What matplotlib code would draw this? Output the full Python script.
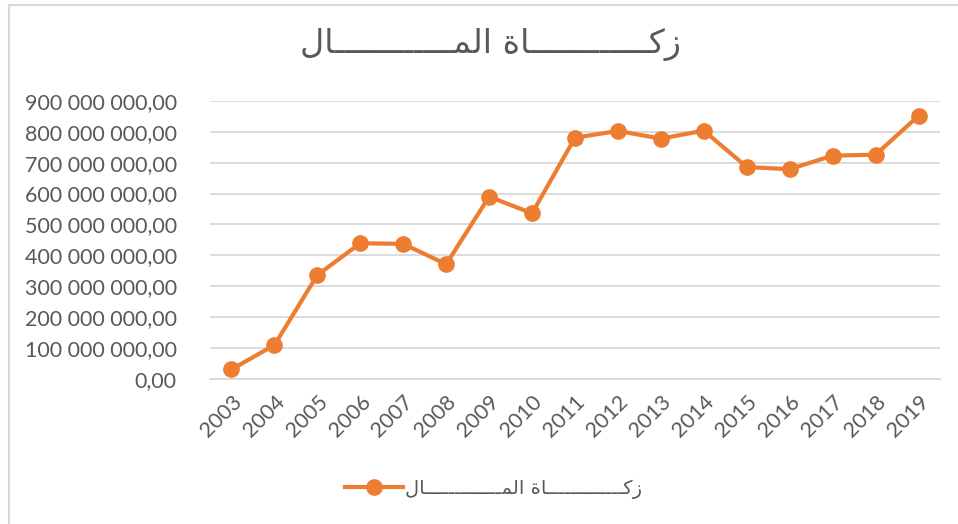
import matplotlib
matplotlib.use('Agg')
import matplotlib.pyplot as plt
from matplotlib.ticker import FuncFormatter
from matplotlib.lines import Line2D

plt.rcParams['font.family'] = ['Lato', 'DejaVu Sans']

# البيانات
years = ['2003', '2004', '2005', '2006', '2007', '2008', '2009', '2010', '2011',
         '2012', '2013', '2014', '2015', '2016', '2017', '2018', '2019']
zakat = [30e6, 109e6, 336e6, 439e6, 437e6, 371e6, 590e6, 536e6, 781e6,
         803e6, 778e6, 804e6, 686e6, 679e6, 723e6, 726e6, 852e6]

# النص العربي بأشكال العرض (matplotlib لا يقوم بتشكيل الحروف)
def arabic_label(n):
    tat = '\u0640' * n
    word1 = '\uFEAF' + '\uFEDB' + tat + '\uFE8E' + '\uFE93'          # زكاة
    word2 = '\uFE8D' + '\uFEDF' + '\uFEE4' + tat + '\uFE8E' + '\uFEDD'  # المال
    return (word1 + ' ' + word2)[::-1]

orange = '#ED7D31'
grey = '#595959'

fig = plt.figure(figsize=(9.58, 5.24), dpi=100)
ax = fig.add_axes([210 / 958, 1 - 378.7 / 524, 730 / 958, 277.7 / 524])

x = range(len(years))
ax.plot(x, zakat, color=orange, linewidth=3, marker='o', markersize=11, zorder=3)

ax.set_xlim(-0.5, len(years) - 0.5)
ax.set_ylim(0, 900e6)
ax.set_yticks([i * 100e6 for i in range(10)])
ax.yaxis.set_major_formatter(FuncFormatter(
    lambda v, p: '{:,.2f}'.format(v).replace(',', ' ').replace('.', ',')))
ax.set_xticks(list(x))
ax.set_xticklabels(years, rotation=45, ha='right', rotation_mode='anchor')

ax.grid(axis='y', color='#D9D9D9', linewidth=1.3)
ax.set_axisbelow(True)
for s in ['top', 'right', 'left']:
    ax.spines[s].set_visible(False)
ax.spines['bottom'].set_color('#D9D9D9')
ax.spines['bottom'].set_linewidth(1.3)
ax.tick_params(length=0, labelsize=15.5, colors=grey)
ax.tick_params(axis='y', pad=24)
ax.tick_params(axis='x', pad=9)

fig.text(0.512, 0.915, arabic_label(12), ha='center', va='center', fontsize=24,
         color=grey, family=['DejaVu Sans'])

handle = Line2D([], [], color=orange, linewidth=3, marker='o', markersize=11)
fig.legend([handle], [arabic_label(13)], loc='center', bbox_to_anchor=(0.515, 0.067),
           frameon=False, handlelength=3.0, handletextpad=0.1,
           prop={'family': 'DejaVu Sans', 'size': 14}, labelcolor=grey)

# إطار الرسم
fig.add_artist(Line2D([9 / 958, 9 / 958], [0, 1 - 5 / 524], color='#D9D9D9',
                      linewidth=1.5, transform=fig.transFigure))
fig.add_artist(Line2D([9 / 958, 1], [1 - 5 / 524, 1 - 5 / 524], color='#D9D9D9',
                      linewidth=1.5, transform=fig.transFigure))

fig.savefig('out.png', dpi=100)
